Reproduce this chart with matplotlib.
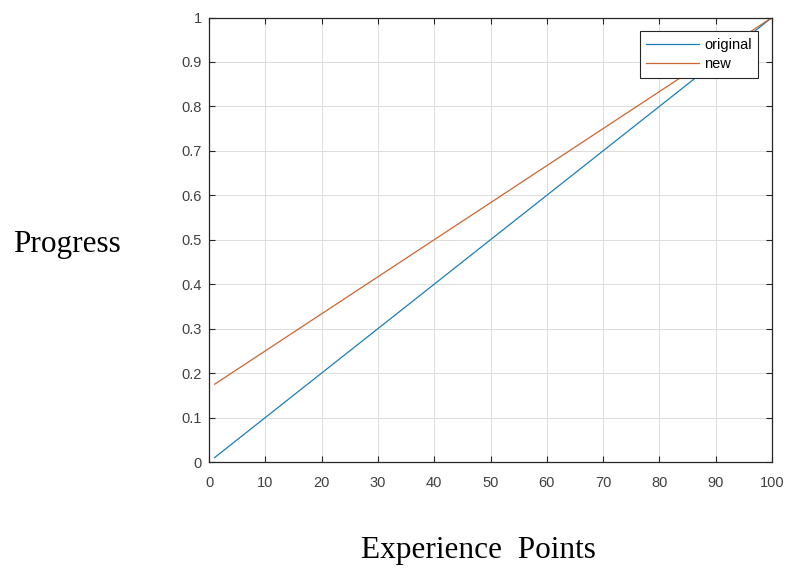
import matplotlib
matplotlib.use("Agg")
import matplotlib.pyplot as plt

# datos
exp_points = [1, 100]
progress_original = [0.01, 1.0]
progress_new = [0.175, 1.0]
x_ticks = [0, 10, 20, 30, 40, 50, 60, 70, 80, 90, 100]
y_ticks = [0, 0.1, 0.2, 0.3, 0.4, 0.5, 0.6, 0.7, 0.8, 0.9, 1]
y_labels = ["0", "0.1", "0.2", "0.3", "0.4", "0.5", "0.6", "0.7", "0.8", "0.9", "1"]

plt.rcParams['font.family'] = ['Liberation Sans', 'DejaVu Sans']

fig = plt.figure(figsize=(7.9, 5.69), dpi=100)
ax = fig.add_axes([209 / 790, 1 - 462 / 569, (772 - 209) / 790, (462 - 17.5) / 569])

ax.plot(exp_points, progress_original, color='#1a7fb5', lw=0.9, label='original')
ax.plot(exp_points, progress_new, color='#cc6530', lw=0.9, label='new')

ax.set_xlim(0, 100)
ax.set_ylim(0, 1)
ax.set_xticks(x_ticks)
ax.set_yticks(y_ticks)
ax.set_yticklabels(y_labels)
ax.tick_params(direction='in', top=True, right=True, length=4, width=0.8,
               labelsize=10.5, colors='#262626', labelcolor='#404040')
ax.tick_params(axis='x', pad=10)
ax.tick_params(axis='y', pad=5)
ax.grid(True, color='#dcdcdc', lw=0.7)
ax.set_axisbelow(True)
for s in ax.spines.values():
    s.set_color('#262626')
    s.set_linewidth(0.9)

leg = ax.legend(loc='upper right', fontsize=10.5, frameon=True, fancybox=False,
                borderpad=0.45, handlelength=3.6, handletextpad=0.35,
                labelspacing=0.35, borderaxespad=0.95)
leg.get_frame().set_edgecolor('#262626')
leg.get_frame().set_linewidth(0.8)
leg.get_frame().set_alpha(1)

fig.text(67 / 790, 1 - 252 / 569, 'Progress', family='Liberation Serif',
         fontsize=22.5, ha='center', va='baseline')
fig.text(478 / 790, 1 - 558 / 569, 'Experience  Points', family='Liberation Serif',
         fontsize=22.5, ha='center', va='baseline')

fig.savefig('out.png', dpi=100)
